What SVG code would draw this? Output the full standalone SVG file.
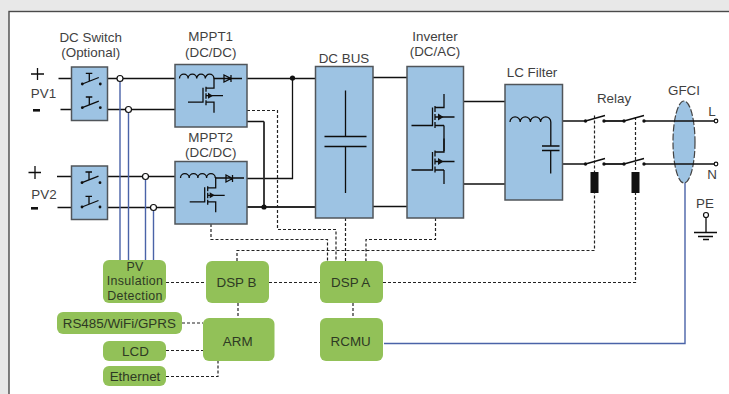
<svg xmlns="http://www.w3.org/2000/svg" xmlns:xlink="http://www.w3.org/1999/xlink" width="729" height="394" viewBox="0 0 729 394">
<style>
text{font-family:"Liberation Sans",Arial,sans-serif;font-size:13.4px;fill:#3f3f3f;text-anchor:middle}
.gt{fill:#2e3a24}
.tight{font-size:12.4px;letter-spacing:.35px}
.blue{fill:#9dc3e3;stroke:#50555a;stroke-width:1.5}
.green{fill:#92c158}
.w{fill:none;stroke:#111;stroke-width:1.3}
.h{fill:none;stroke:#2a2a2a;stroke-width:1.8}
.t{fill:none;stroke:#0d0d0d;stroke-width:1.3}
.d{fill:none;stroke:#222;stroke-width:1.2;stroke-dasharray:3 2}
.b{fill:none;stroke:#4a63a8;stroke-width:1.4}
.o{fill:#fff;stroke:#111;stroke-width:1.2}
.k{fill:#111}
</style>
<defs>
<g id="sw"><circle cx="-11" cy="5" r="1.400" class="k"/><circle cx="7" cy="5" r="1.400" class="k"/><path class="t" d="M-11 5L5.500 -1.500M-4 2V-5.700M-7.500 -5.700H-1"/></g>
<g id="fet-s"><path class="t" d="M-15 6.500H0V-8M3 -9V-4M3 -2.500V3M3 4.500V9.500M3 -7.500H11V-18M3 6.500H11V17M3 0H20"/><path class="k" d="M5 -3L5 3L10 0Z"/></g>
<g id="fet-l"><path class="t" d="M-21 8.500H0V-9.500M2.500 -11V-5M2.500 -3V3M2.500 5V11M2.500 -9.500H11.500V-23M2.500 8.500H11.500M2.500 0H22"/><path class="k" d="M5.500 -3.500V3.500L11 0Z"/></g>
</defs>
<rect width="729" height="394" fill="#e8e8e8"/>
<rect x="9" y="11.500" width="730" height="400" fill="#fff" stroke="#4a4a4a" stroke-width="1.400"/>
<g id="connectors">
<path class="w" d="M58.500 78.500H72M60.500 109.500H72M107 78.500H175M107 109.500H175M57 176.500H72M57.500 207.500H72M107 176.500H175M107 207.500H175"/>
<path class="w" d="M247 78.500H315.500M292.500 78.500V178.500H247M373 77.500H407M373 206.500H407M463 101.500H505M463 184H505M562 121H585M562 164H585M247 121.500H264"/>
<path class="h" d="M264 121.500V207M247 207H315.500"/>
<path class="h" d="M604 121H624M604 164H624"/>
<circle class="k" cx="292.500" cy="78" r="2.600"/><circle class="k" cx="264" cy="207" r="2.600"/>
<path class="b" d="M120 79V260M128.500 110V260M145.500 177V260M153.500 208V260M384 343.500H685V182"/>
<path class="d" d="M247 110.500H277.500V229.500H336V261M211 224V239.500H327.500V261M345.500 218V261M435.500 218V239.500H366V261M237 261V250.500H594.500V115M383 282.500H635.500V115M166 282.500H206M269 282.500H320M238 303V318M353 303V318M182 323H203M166 350.500H203M166 376.500H218V361"/>
<circle class="o" cx="120" cy="78.500" r="3"/><circle class="o" cx="128.500" cy="109.500" r="3"/><circle class="o" cx="145.500" cy="176.500" r="3"/><circle class="o" cx="153.500" cy="207.500" r="3"/>
</g>
<g id="pv1"><path class="t" d="M31 74H44M37.500 68V80"/><rect x="33" y="109" width="7" height="2.600" class="k"/><text x="43.500" y="98">PV1</text></g>
<g id="pv2"><path class="t" d="M28.500 172.500H41M35 166V179"/><rect x="31" y="207" width="7" height="2.600" class="k"/><text x="44" y="199">PV2</text></g>
<g id="dc-switch-1"><rect class="blue" x="71.500" y="67" width="36" height="53.500"/><use xlink:href="#sw" href="#sw" x="93.300" y="79"/><use xlink:href="#sw" href="#sw" x="93.300" y="102.700"/><text x="90.700" y="41.500">DC Switch</text><text x="90.700" y="56.500">(Optional)</text></g>
<g id="dc-switch-2"><rect class="blue" x="71.500" y="166" width="36" height="53.500"/><use xlink:href="#sw" href="#sw" x="93" y="177.700"/><use xlink:href="#sw" href="#sw" x="93" y="202"/></g>
<g id="mppt1"><rect class="blue" x="175" y="64.500" width="72" height="62.500"/><path class="t" d="M179.500 78.500a4.300 4.300 0 0 1 8.600 0a4.300 4.300 0 0 1 8.600 0a4.300 4.300 0 0 1 8.600 0a4.300 4.300 0 0 1 8.600 0M214 78.500H242M224 75V82L231 78.500ZM231 75V82"/><use xlink:href="#fet-s" href="#fet-s" x="203" y="95.700"/><text x="210.700" y="40.700">MPPT1</text><text x="210.700" y="56.500">(DC/DC)</text></g>
<g id="mppt2"><rect class="blue" x="175" y="161.500" width="72" height="62.500"/><path class="t" d="M180.500 178a4.300 4.300 0 0 1 8.700 0a4.300 4.300 0 0 1 8.700 0a4.300 4.300 0 0 1 8.700 0a4.300 4.300 0 0 1 8.700 0M215.500 178H244M226 175V182L232.500 178.500ZM232.500 175V182"/><use xlink:href="#fet-s" href="#fet-s" x="204.700" y="195.300"/><text x="210.700" y="141.500">MPPT2</text><text x="210.700" y="156.500">(DC/DC)</text></g>
<g id="dc-bus"><rect class="blue" x="315.500" y="66.500" width="57.500" height="151.500"/><path class="t" d="M345.500 90.500V136.500M324.500 136.500H366.500M324.500 146.500H366.500M345.500 146.500V193"/><text x="344" y="63">DC BUS</text></g>
<g id="inverter"><rect class="blue" x="407" y="66.500" width="56.500" height="151.500"/><use xlink:href="#fet-l" href="#fet-l" x="432.500" y="117"/><use xlink:href="#fet-l" href="#fet-l" x="432.500" y="161.500"/><path class="t" d="M444 125.500V151M444 170V184"/><text x="435" y="41">Inverter</text><text x="435" y="56">(DC/AC)</text></g>
<g id="lc-filter"><rect class="blue" x="505" y="84.500" width="57.500" height="115.500"/><path class="t" d="M510 122a5.100 5.100 0 0 1 10.200 0a5.100 5.100 0 0 1 10.200 0a5.100 5.100 0 0 1 10.200 0a5.100 5.100 0 0 1 10.200 0V146M542 146H559.500M542 150.500H559.500M550.700 150.500V173.500"/><text x="532" y="76.500">LC Filter</text></g>
<g id="relay">
<circle class="k" cx="585.500" cy="121" r="1.700"/><circle class="k" cx="604" cy="121" r="1.700"/><circle class="k" cx="624" cy="121" r="1.700"/><circle class="k" cx="644" cy="121" r="1.700"/>
<circle class="k" cx="585.500" cy="164" r="1.700"/><circle class="k" cx="604" cy="164" r="1.700"/><circle class="k" cx="624" cy="164" r="1.700"/><circle class="k" cx="644" cy="164" r="1.700"/>
<path class="t" d="M585.500 121L605 115.500M624 121L644 115.500M585.500 164L605 158.500M624 164L644 158.500"/>
<rect class="k" x="590.500" y="172" width="8" height="21"/><rect class="k" x="631.500" y="172" width="8" height="21"/>
<text x="614" y="102.500">Relay</text></g>
<g id="gfci"><ellipse cx="684" cy="142" rx="11" ry="41" fill="#9dc3e3" stroke="#444" stroke-width="1.200" stroke-dasharray="7 2"/><path class="w" d="M644 121H715M644 164H715"/><text x="684" y="95">GFCI</text></g>
<g id="terminal-l"><circle class="o" cx="716" cy="121" r="1.800"/><text x="712" y="116">L</text></g>
<g id="terminal-n"><circle class="o" cx="716" cy="164" r="1.800"/><text x="712" y="178.500">N</text></g>
<g id="pe"><circle class="o" cx="706" cy="215" r="2.500"/><path class="t" d="M706 217.500V232M694 232.500H717M698 236.500H713M703 239.500H709"/><text x="705" y="207.700">PE</text></g>
<g id="pv-insulation"><rect class="green" x="103" y="260" width="63" height="43" rx="6"/><text class="gt tight" x="135" y="271">PV</text><text class="gt tight" x="135" y="285.300">Insulation</text><text class="gt tight" x="135" y="299.600">Detection</text></g>
<g id="dsp-b"><rect class="green" x="206" y="261" width="63" height="42" rx="6"/><text class="gt" x="236.500" y="286.700">DSP B</text></g>
<g id="dsp-a"><rect class="green" x="320" y="261" width="63" height="42" rx="6"/><text class="gt" x="350.700" y="286.700">DSP A</text></g>
<g id="rcmu"><rect class="green" x="320" y="318" width="63" height="43" rx="6"/><text class="gt" x="350.700" y="346">RCMU</text></g>
<g id="arm"><rect class="green" x="203" y="318" width="71.500" height="43" rx="6"/><text class="gt" x="237.700" y="346">ARM</text></g>
<g id="rs485"><rect class="green" x="57" y="312" width="125" height="22" rx="6"/><text class="gt" x="119.300" y="328">RS485/WiFi/GPRS</text></g>
<g id="lcd"><rect class="green" x="103" y="341" width="63" height="20" rx="6"/><text class="gt" x="135.500" y="355.700">LCD</text></g>
<g id="ethernet"><rect class="green" x="103" y="366" width="63" height="20" rx="6"/><text class="gt" x="135" y="381.300">Ethernet</text></g>
</svg>
